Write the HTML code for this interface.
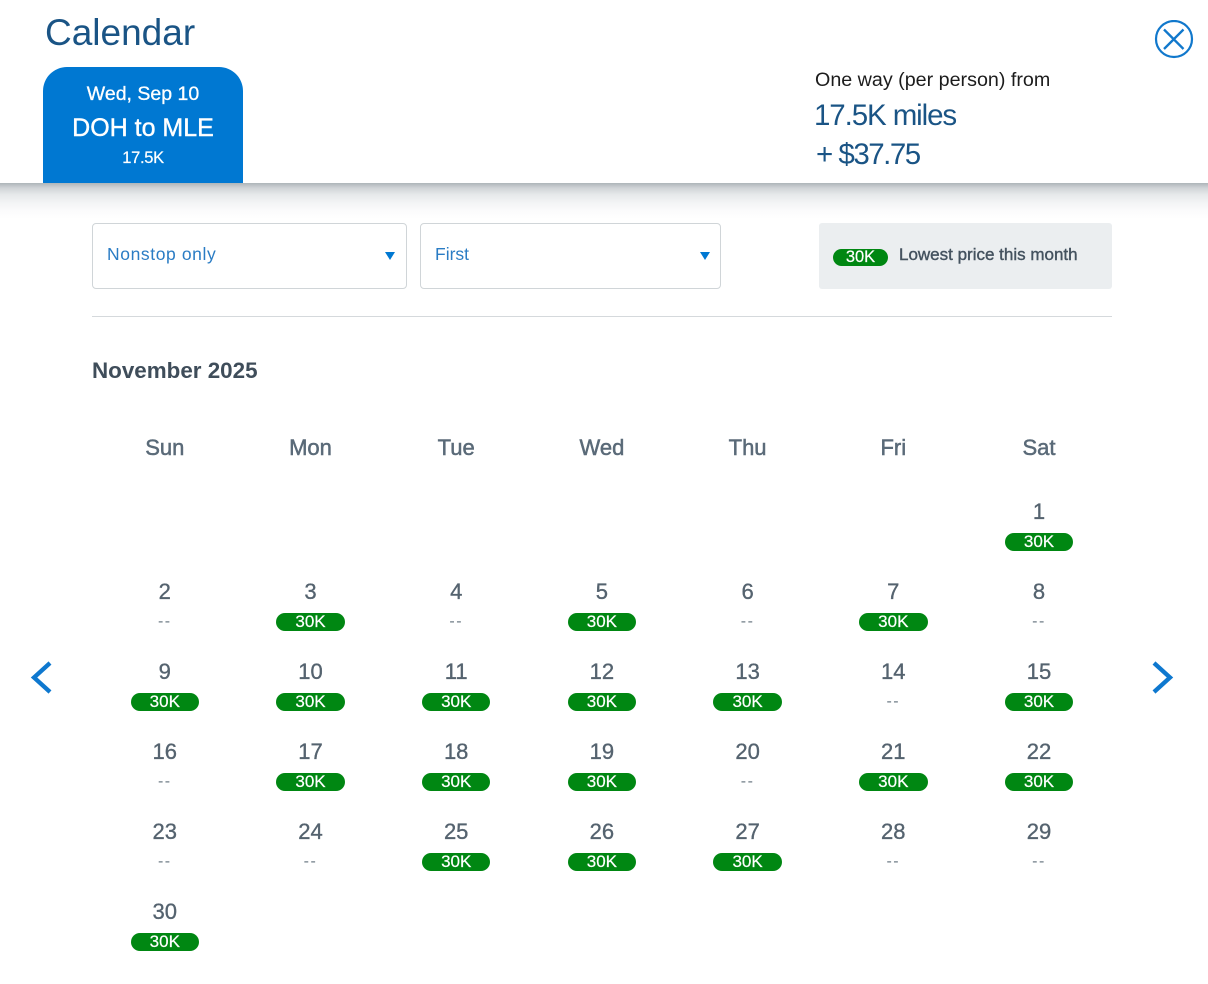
<!DOCTYPE html>
<html lang="en">
<head>
<meta charset="utf-8">
<title>Calendar</title>
<style>
html,body{margin:0;padding:0;background:#fff;}
body{width:1208px;height:984px;position:relative;overflow:hidden;font-family:"Liberation Sans",sans-serif;}
.abs{position:absolute;white-space:nowrap;}
.select{position:absolute;top:223px;height:64px;border:1px solid #d0d5d8;border-radius:4px;background:#fff;box-sizing:content-box;}
.select span{position:absolute;top:20px;left:14px;font-size:17.5px;line-height:21px;color:#2a7cc4;}
.select i{position:absolute;top:28px;width:0;height:0;border-left:5.5px solid transparent;border-right:5.5px solid transparent;border-top:8px solid #0078d2;}
.pill{position:absolute;background:#008712;color:#fff;border-radius:10px;text-align:center;font-size:17px;line-height:17px;height:18px;-webkit-text-stroke:.2px #fff;}
.dow,.num,.dash{position:absolute;text-align:center;width:120px;}
.dow{font-size:22px;font-weight:400;color:#5a6a78;line-height:26px;top:435px;-webkit-text-stroke:.5px #5a6a78;}
.num{font-size:22px;color:#55636f;line-height:26px;-webkit-text-stroke:.35px #55636f;}
.dash{font-size:16px;color:#6e7b86;line-height:18px;letter-spacing:1.5px;}
</style>
</head>
<body>
<div class="abs" style="left:45px;top:11px;font-size:37px;line-height:44px;color:#1a5485;">Calendar</div>
<div class="abs" style="left:43px;top:67px;width:200px;height:116px;background:#0078d2;border-radius:24px 24px 0 0;color:#fff;text-align:center;">
  <div class="abs" style="left:0;width:200px;top:15px;font-size:19.5px;line-height:24px;-webkit-text-stroke:.3px #fff;">Wed, Sep 10</div>
  <div class="abs" style="left:0;width:200px;top:45px;font-size:25px;line-height:32px;-webkit-text-stroke:.4px #fff;">DOH to MLE</div>
  <div class="abs" style="left:0;width:200px;top:80px;font-size:16.5px;line-height:22px;-webkit-text-stroke:.2px #fff;letter-spacing:-.3px;">17.5K</div>
</div>
<div class="abs" style="left:815px;top:68px;font-size:19.7px;line-height:24px;color:#1c1c1c;">One way (per person) from</div>
<div class="abs" style="left:814px;top:97px;font-size:29.5px;line-height:38px;color:#1a5485;letter-spacing:-1.1px;">17.5K miles</div>
<div class="abs" style="left:816px;top:136px;font-size:29.5px;line-height:38px;color:#1a5485;letter-spacing:-1.5px;">+ $37.75</div>
<svg class="abs" style="left:1154px;top:20px;" width="40" height="40" viewBox="0 0 40 40">
  <circle cx="20" cy="19" r="18" fill="none" stroke="#1178cc" stroke-width="2.2"/>
  <path d="M10 9.5 L29.5 29 M29.5 9.5 L10 29" stroke="#1178cc" stroke-width="2.3" fill="none"/>
</svg>
<div class="abs" style="left:0;top:183px;width:1208px;height:36px;background:linear-gradient(to bottom,#aeb5b9 0%,#d0d4d7 14%,#e6e9ea 32%,#f3f4f5 55%,#fbfbfc 78%,#fff 100%);"></div>
<div class="select" style="left:92px;width:313px;">
  <span style="letter-spacing:.6px;">Nonstop only</span>
  <i style="left:292px;"></i>
</div>
<div class="select" style="left:420px;width:299px;">
  <span>First</span>
  <i style="left:279px;"></i>
</div>
<div class="abs" style="left:819px;top:223px;width:293px;height:66px;background:#ebeef0;border-radius:3px;">
  <div class="pill" style="left:14px;top:26px;width:55px;height:17px;line-height:16px;font-size:16.5px;">30K</div>
  <div class="abs" style="left:80px;top:20px;font-size:17px;line-height:23px;font-weight:400;color:#44525f;-webkit-text-stroke:.4px #44525f;">Lowest price this month</div>
</div>
<div class="abs" style="left:92px;top:316px;width:1020px;height:1px;background:#d5d9dc;"></div>
<div class="abs" style="left:92px;top:357px;font-size:22.4px;line-height:28px;font-weight:700;color:#3f4d5a;">November 2025</div>
<svg class="abs" style="left:28px;top:658px;" width="26" height="40" viewBox="0 0 26 40">
  <path d="M22 5 L6 19.5 L22 34" fill="none" stroke="#0e78cf" stroke-width="4.3"/>
</svg>
<svg class="abs" style="left:1150px;top:658px;" width="26" height="40" viewBox="0 0 26 40">
  <path d="M4 5 L20 19.5 L4 34" fill="none" stroke="#0e78cf" stroke-width="4.3"/>
</svg>
<div id="calendar"></div>
<script>
const weekdays = ["Sun","Mon","Tue","Wed","Thu","Fri","Sat"];
const firstWeekday = 6;
const dayPrices = ["30K",null,"30K",null,"30K",null,"30K",null,"30K","30K","30K","30K","30K",null,"30K",null,"30K","30K","30K",null,"30K","30K",null,null,"30K","30K","30K",null,null,"30K"];
const root = document.getElementById('calendar');
function columnCenter(col){ return 164.8 + col * 145.7; }
function rowTop(row){ return 499 + row * 80; }
weekdays.forEach(function(name, col){
  const el = document.createElement('div');
  el.className = 'dow';
  
  
  el.style.left = (columnCenter(col) - 60) + 'px';
  el.textContent = name;
  root.appendChild(el);
});
dayPrices.forEach(function(price, i){
  const slot = i + firstWeekday;
  const col = slot % 7;
  const row = Math.floor(slot / 7);
  const cx = columnCenter(col);
  const top = rowTop(row);
  const num = document.createElement('div');
  num.className = 'num';
  
  
  num.style.left = (cx - 60) + 'px';
  num.style.top = top + 'px';
  num.textContent = String(i + 1);
  root.appendChild(num);
  if (price) {
    const pill = document.createElement('div');
    pill.className = 'pill';
    
    
    pill.style.left = (cx - 34.3) + 'px';
    pill.style.top = (top + 34) + 'px';
    pill.style.width = '68.6px';
    pill.textContent = price;
    root.appendChild(pill);
  } else {
    const dash = document.createElement('div');
    dash.className = 'dash';
    
    
    dash.style.left = (cx - 60) + 'px';
    dash.style.top = (top + 34) + 'px';
    dash.textContent = '--';
    root.appendChild(dash);
  }
});
</script>
</body>
</html>
